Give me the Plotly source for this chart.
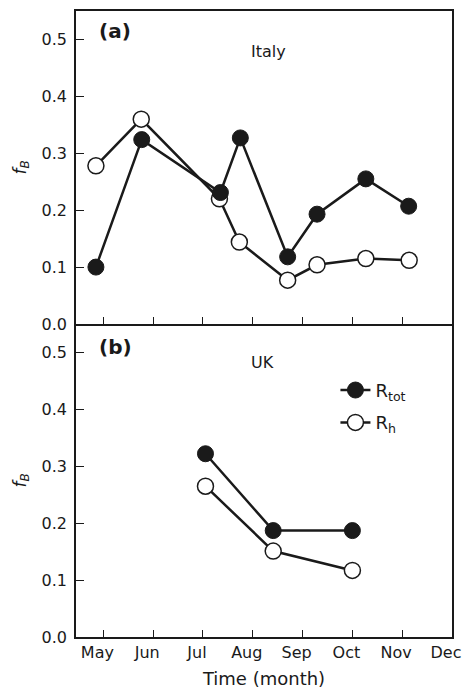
import plotly.graph_objects as go

# ---- data ----
months = ["May", "Jun", "Jul", "Aug", "Sep", "Oct", "Nov", "Dec"]
month_pos = [5, 6, 7, 8, 9, 10, 11, 12]

italy_x_tot = [4.85, 5.77, 7.35, 7.75, 8.70, 9.29, 10.27, 11.13]
italy_tot = [0.100, 0.324, 0.231, 0.327, 0.118, 0.193, 0.255, 0.207]
italy_x_h = [4.85, 5.76, 7.33, 7.73, 8.70, 9.29, 10.27, 11.14]
italy_h = [0.278, 0.360, 0.220, 0.144, 0.077, 0.104, 0.115, 0.112]

uk_x = [7.05, 8.41, 10.0]
uk_tot = [0.322, 0.187, 0.187]
uk_h = [0.265, 0.151, 0.117]

yticks = [0.0, 0.1, 0.2, 0.3, 0.4, 0.5]

FONT = "DejaVu Sans"
INK = "#1a1a1a"

fig = go.Figure()

def add_pair(xh, yh, xt, yt, xa, ya, show):
    fig.add_trace(go.Scatter(
        x=xh, y=yh, mode="lines+markers", xaxis=xa, yaxis=ya,
        name="R<sub>h</sub>", showlegend=show, legendrank=2,
        legendgroup="h",
        line=dict(color=INK, width=2.5),
        marker=dict(size=16, color="white", line=dict(color=INK, width=1.5)),
    ))
    fig.add_trace(go.Scatter(
        x=xt, y=yt, mode="lines+markers", xaxis=xa, yaxis=ya,
        name="R<sub>tot</sub>", showlegend=show, legendrank=1,
        legendgroup="tot",
        line=dict(color=INK, width=2.5),
        marker=dict(size=16, color=INK, line=dict(color=INK, width=1)),
    ))

add_pair(italy_x_h, italy_h, italy_x_tot, italy_tot, "x", "y", False)
add_pair(uk_x, uk_h, uk_x, uk_tot, "x2", "y2", True)

axis_common = dict(
    showline=True, mirror=True, linecolor=INK, linewidth=1.5,
    showgrid=False, zeroline=False, ticks="inside", tickcolor=INK,
    tickwidth=1.2, tickfont=dict(family=FONT, size=16, color=INK),
    automargin=False,
)

fig.update_layout(
    width=464, height=691,
    margin=dict(l=76, r=12, t=11, b=54),
    paper_bgcolor="white", plot_bgcolor="white",
    font=dict(family=FONT, color=INK),
    xaxis=dict(axis_common, domain=[0, 1], anchor="y", range=[4.45, 12],
               tickvals=month_pos[:-1], ticklen=7, showticklabels=False),
    yaxis=dict(axis_common, domain=[0.5, 1], anchor="x", range=[0, 0.55],
               tickvals=yticks, tickformat=".1f", ticklen=8,
               ticklabelstandoff=4,
               title=dict(text="<i>f</i><sub><i>B</i></sub>",
                          font=dict(family=FONT, size=17), standoff=11)),
    xaxis2=dict(axis_common, domain=[0, 1], anchor="y2", range=[4.45, 12],
                mirror=False,
                tickvals=month_pos, ticktext=months, ticklen=7,
                ticklabelshift=-6, ticklabelstandoff=0,
                title=dict(text="Time (month)",
                           font=dict(family=FONT, size=18), standoff=11)),
    yaxis2=dict(axis_common, domain=[0, 0.5], anchor="x2", range=[0, 0.55],
                tickvals=yticks, tickformat=".1f", ticklen=8,
                ticklabelstandoff=4,
                title=dict(text="<i>f</i><sub><i>B</i></sub>",
                           font=dict(family=FONT, size=17), standoff=11)),
    legend=dict(x=0.69, y=0.4236, xanchor="left", yanchor="top",
                bgcolor="rgba(0,0,0,0)", borderwidth=0,
                font=dict(family=FONT, size=18, color=INK),
                tracegroupgap=6),
    showlegend=True,
)

ann = [
    dict(text="<b>(a)</b>", x=0.056, y=0.968, size=20, xanchor="left"),
    dict(text="Italy", x=0.513, y=0.936, size=16, xanchor="center"),
    dict(text="<b>(b)</b>", x=0.056, y=0.463, size=20, xanchor="left"),
    dict(text="UK", x=0.497, y=0.438, size=16, xanchor="center"),
]
for a in ann:
    fig.add_annotation(text=a["text"], x=a["x"], y=a["y"], xref="paper",
                       yref="paper", xanchor=a["xanchor"], yanchor="middle",
                       showarrow=False,
                       font=dict(family=FONT, size=a["size"], color=INK))

fig.write_html("out.html", config={"displayModeBar": False},
               post_script="document.body.style.margin='0';"
                           "document.body.style.padding='0';")
